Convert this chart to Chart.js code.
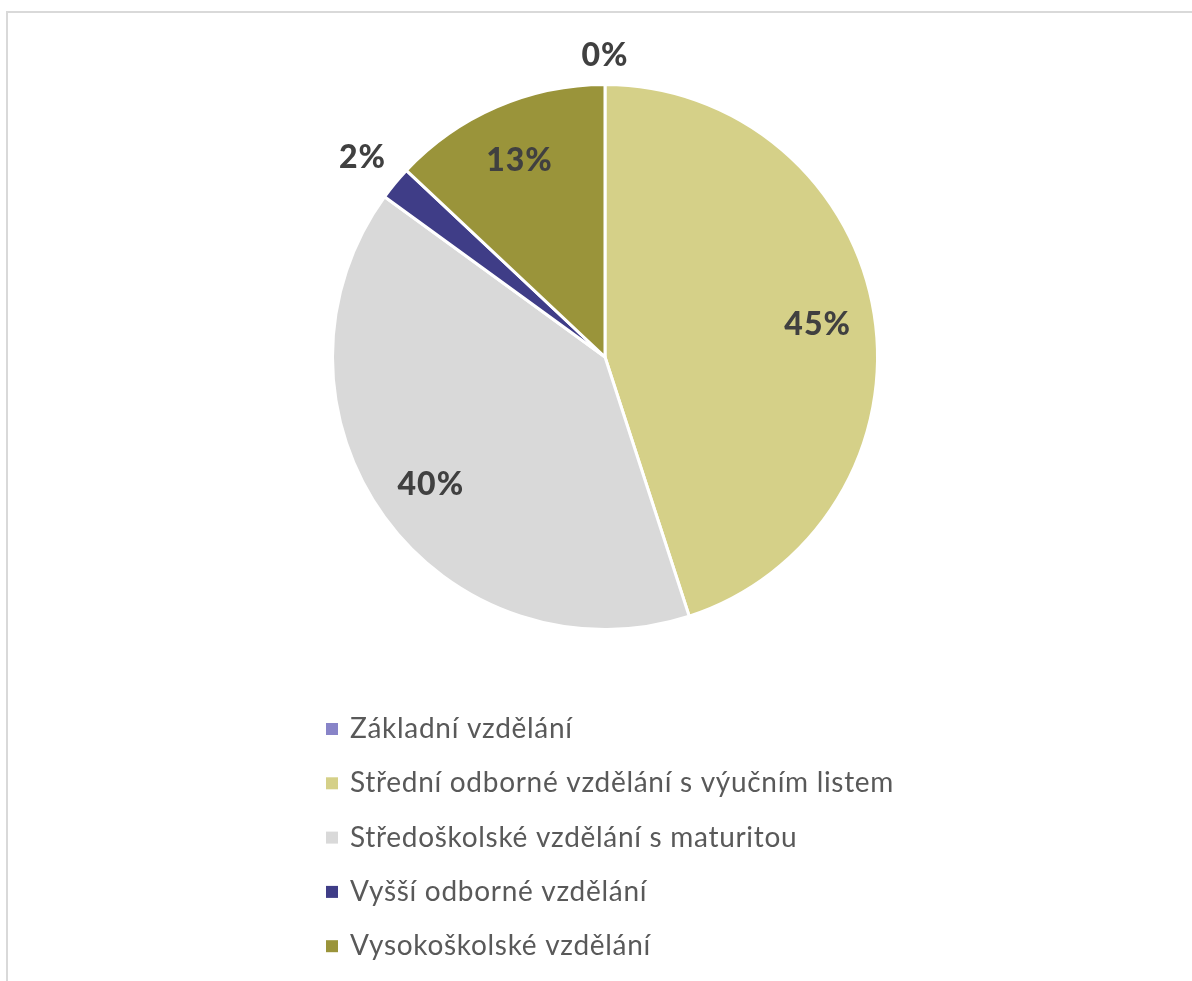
<!DOCTYPE html>
<html>
<head>
<meta charset="utf-8">
<script src="https://cdn.jsdelivr.net/npm/chart.js@4"></script>
<style>
  html, body { margin: 0; padding: 0; background: #fff; }
  #wrap { position: relative; width: 1192px; height: 981px; overflow: hidden; }
  #frame {
    position: absolute; left: 6px; top: 11px; width: 1300px; height: 1100px;
    border-left: 2px solid #d9d9d9; border-top: 2px solid #d9d9d9;
  }
  canvas { position: absolute; left: 0; top: 0; }
</style>
</head>
<body>
<div id="wrap">
  <div id="frame"></div>
  <canvas id="edu-chart" width="1192" height="981"></canvas>
</div>
<script>
// Education level shares
const categories = [
    'Základní vzdělání',
    'Střední odborné vzdělání s výučním listem',
    'Středoškolské vzdělání s maturitou',
    'Vyšší odborné vzdělání',
    'Vysokoškolské vzdělání'
];
const shares = [0, 45, 40, 2, 13]; // percent
const sliceColors = ['#8884c8', '#d5d088', '#d9d9d9', '#3f3d87', '#9a943a'];

const FONT = 'Lato, "Open Sans", sans-serif';

// percentage labels: inside for big slices, just outside for tiny ones
const pieLabels = {
    id: 'pieLabels',
    afterDatasetsDraw(chart) {
        const ctx = chart.ctx;
        const meta = chart.getDatasetMeta(0);
        const values = chart.data.datasets[0].data;
        ctx.save();
        ctx.font = '900 32px ' + FONT;
        ctx.letterSpacing = '1px';
        ctx.fillStyle = '#404040';
        ctx.textAlign = 'center';
        ctx.textBaseline = 'middle';
        meta.data.forEach((arc, i) => {
            const v = values[i];
            const text = v + '%';
            const mid = (arc.startAngle + arc.endAngle) / 2;
            const dx = Math.cos(mid), dy = Math.sin(mid);
            const r = arc.outerRadius;
            let dist;
            if (v >= 5) {
                dist = r * 0.79;
            } else {
                const w = ctx.measureText(text).width;
                dist = r + 14 + Math.abs(dx) * w / 2 + Math.abs(dy) * 16;
            }
            ctx.fillText(text, arc.x + dx * dist, arc.y + dy * dist + 1);
        });
        ctx.restore();
    }
};

// vertical legend under the pie
const sideLegend = {
    id: 'sideLegend',
    afterDraw(chart) {
        const ctx = chart.ctx;
        const colors = chart.data.datasets[0].backgroundColor;
        ctx.save();
        ctx.font = '28px ' + FONT;
        ctx.letterSpacing = '0.7px';
        ctx.textBaseline = 'middle';
        chart.data.labels.forEach((label, i) => {
            const y = 729 + i * 54.3;
            ctx.fillStyle = colors[i];
            ctx.fillRect(326, y - 6, 12, 12);
            ctx.fillStyle = '#595959';
            ctx.fillText(label, 350, y);
        });
        ctx.restore();
    }
};

const ctx = document.getElementById('edu-chart').getContext('2d');
const eduChart = new Chart(ctx, {
    type: 'pie',
    data: {
        labels: categories,
        datasets: [{
            data: shares,
            backgroundColor: sliceColors,
            borderColor: '#ffffff',
            borderWidth: 3
        }]
    },
    options: {
        responsive: false,
        animation: false,
        layout: {
            padding: { top: 83, bottom: 350, left: 331, right: 313 }
        },
        plugins: {
            legend: { display: false },
            tooltip: { enabled: false }
        }
    },
    plugins: [pieLabels, sideLegend]
});
</script>
</body>
</html>
